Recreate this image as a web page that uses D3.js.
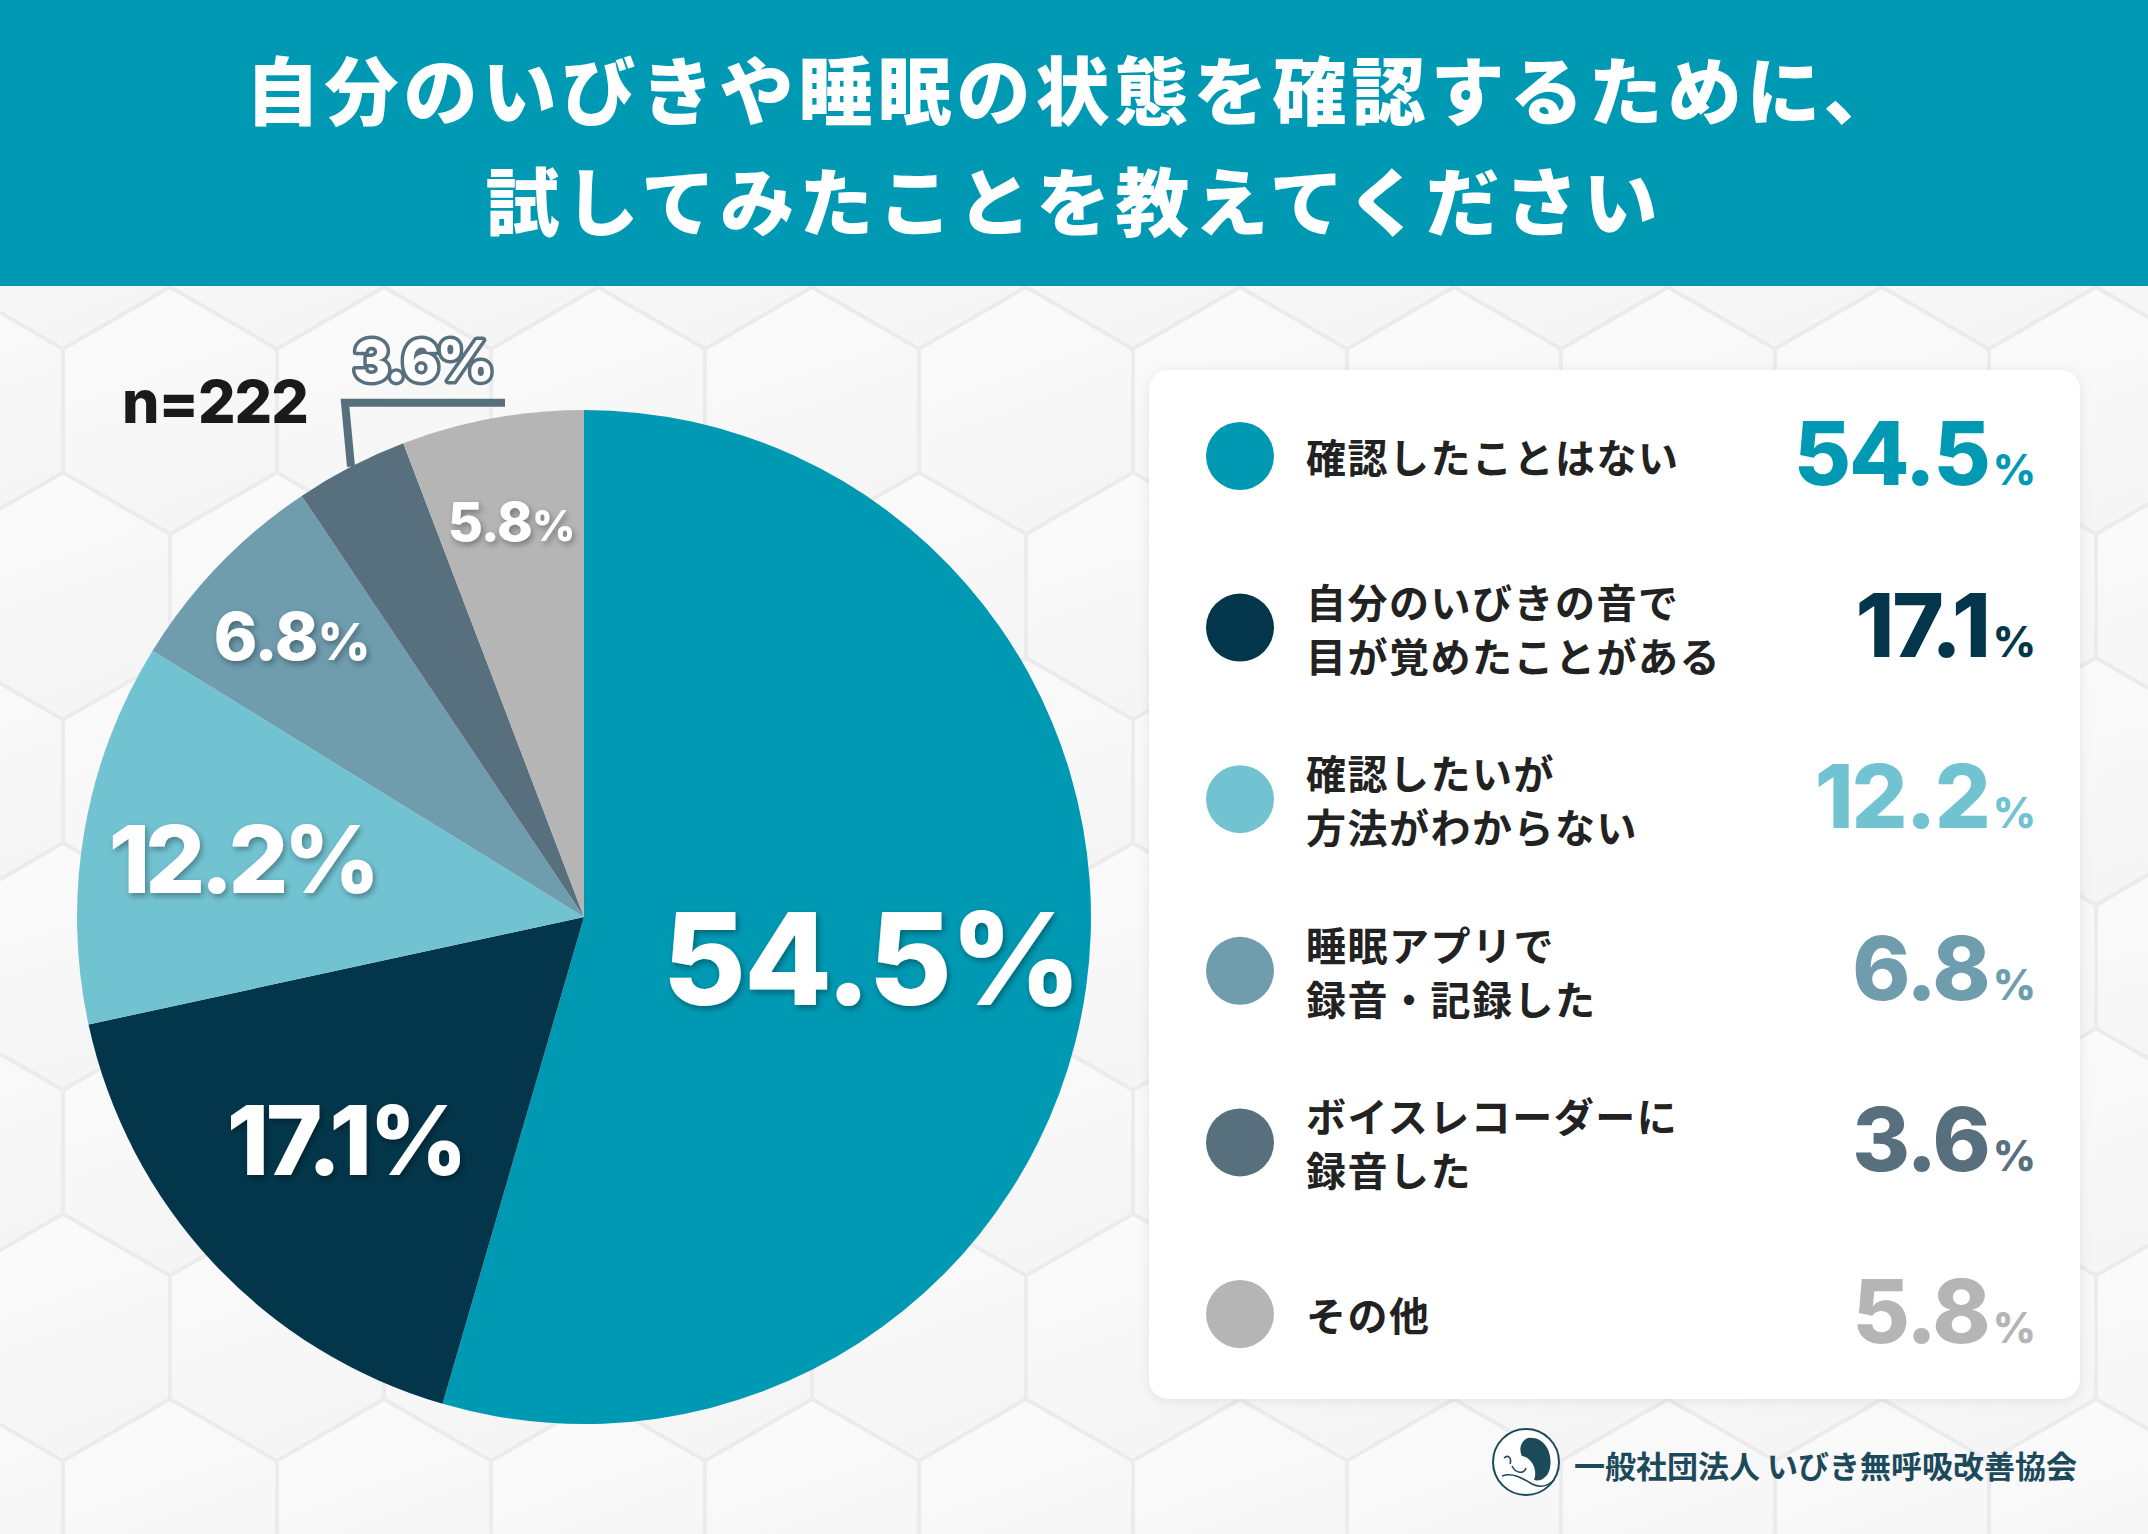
<!DOCTYPE html>
<html lang="ja">
<head>
<meta charset="utf-8">
<script src="https://cdn.jsdelivr.net/npm/d3@7"></script>
<style>
  html, body { margin: 0; padding: 0; background: #f1f1f1; }
  svg { display: block; }
  .jp { font-family: "Noto Sans CJK JP", "Noto Sans", sans-serif; }
  .num { font-family: Inter, "Noto Sans", sans-serif; }
</style>
</head>
<body>
<div id="chart"></div>
<script>
// ---- data ----
const titleLines = ["自分のいびきや睡眠の状態を確認するために、", "試してみたことを教えてください"];
const categories = [
  ["確認したことはない"],
  ["自分のいびきの音で", "目が覚めたことがある"],
  ["確認したいが", "方法がわからない"],
  ["睡眠アプリで", "録音・記録した"],
  ["ボイスレコーダーに", "録音した"],
  ["その他"]
];
const values = [54.5, 17.1, 12.2, 6.8, 3.6, 5.8];
const sampleSize = 222;
const footerText = "一般社団法人 いびき無呼吸改善協会";

// ---- style ----
const colors = ["#0099b3", "#03364a", "#72c3d2", "#6f9dae", "#58707d", "#b5b5b5"];
const labelRadius = [290, 326, 347, 406, null, 403];   // null = callout outside
const labelSize = [128, 96, 94, 66, null, 54];
const labelSpacing = [-2, -3, -5, -1, 0, -1];
const pctScale = [1, 1, 1, 0.78, 1, 0.78];

const W = 2148, H = 1534;
const cx = 584, cy = 917, R = 507;

const svg = d3.select("#chart").append("svg")
  .attr("width", W).attr("height", H);

const defs = svg.append("defs");
defs.append("filter").attr("id", "txtShadow")
  .attr("x", "-20%").attr("y", "-20%").attr("width", "140%").attr("height", "140%")
  .append("feDropShadow")
  .attr("dx", 2).attr("dy", 3).attr("stdDeviation", 3)
  .attr("flood-color", "#000").attr("flood-opacity", 0.35);
defs.append("filter").attr("id", "cardShadow")
  .attr("x", "-5%").attr("y", "-5%").attr("width", "110%").attr("height", "110%")
  .append("feDropShadow")
  .attr("dx", 0).attr("dy", 2).attr("stdDeviation", 6)
  .attr("flood-color", "#000").attr("flood-opacity", 0.08);
const hexGrad = defs.append("linearGradient").attr("id", "hexGrad")
  .attr("x1", 0).attr("y1", 0).attr("x2", 0.3).attr("y2", 1);
hexGrad.append("stop").attr("offset", 0).attr("stop-color", "#fbfbfb");
hexGrad.append("stop").attr("offset", 1).attr("stop-color", "#f5f5f5");

// ---- hexagon background ----
svg.append("rect").attr("width", W).attr("height", H).attr("fill", "#f2f2f2");
const hexW = 214, hexR = hexW / Math.sqrt(3);
const hexPts = d3.range(6).map(k => {
  const a = Math.PI / 180 * (60 * k - 90);
  return [hexR * Math.cos(a), hexR * Math.sin(a)];
});
const hexPath = "M" + hexPts.map(p => p.join(",")).join("L") + "Z";
const hexes = [];
for (let row = -1; row * hexR * 1.5 < H + hexR; row++) {
  for (let col = -1; col * hexW < W + hexW; col++) {
    hexes.push([col * hexW + (row % 2 ? hexW / 2 : 0) - 44, row * hexR * 1.5 + 40]);
  }
}
svg.append("g").selectAll("path").data(hexes).join("path")
  .attr("d", hexPath)
  .attr("transform", d => `translate(${d[0]},${d[1]}) scale(0.99)`)
  .attr("fill", "url(#hexGrad)")
  .attr("stroke", "#e9e9e9")
  .attr("stroke-width", 1.5);

// ---- header ----
svg.append("rect").attr("width", W).attr("height", 286).attr("fill", "#0099b3");
svg.append("g").selectAll("text").data(titleLines).join("text")
  .attr("class", "jp")
  .attr("x", W / 2)
  .attr("y", (d, i) => 86 + i * 111)
  .attr("text-anchor", "middle")
  .attr("dominant-baseline", "central")
  .attr("fill", "#fff")
  .attr("font-size", 74)
  .attr("font-weight", 900)
  .attr("letter-spacing", 5)
  .text(d => d);

// ---- pie ----
const pie = d3.pie().sort(null).value(d => d);
const arcs = pie(values);
const arc = d3.arc().innerRadius(0).outerRadius(R);
const gPie = svg.append("g").attr("transform", `translate(${cx},${cy})`);
gPie.selectAll("path").data(arcs).join("path")
  .attr("d", arc)
  .attr("fill", (d, i) => colors[i]);

const gLab = gPie.append("g").attr("filter", "url(#txtShadow)");
arcs.forEach((d, i) => {
  if (labelRadius[i] == null) return;
  const [x, y] = d3.arc().innerRadius(labelRadius[i]).outerRadius(labelRadius[i]).centroid(d);
  const fs = labelSize[i];
  const t = gLab.append("text")
    .attr("class", "num")
    .attr("x", x).attr("y", y + fs * 0.37)
    .attr("text-anchor", "middle")
    .attr("fill", "#fff")
    .attr("font-size", fs)
    .attr("font-weight", 800)
    .attr("letter-spacing", labelSpacing[i]);
  t.append("tspan").text(values[i].toFixed(1));
  t.append("tspan").attr("font-size", fs * pctScale[i]).text("%");
});

// callout for the small slice
const small = values.findIndex((v, i) => labelRadius[i] == null);
const edge = d3.arc().innerRadius(R).outerRadius(R).centroid(arcs[small]);
const elbow = [edge[0] - 6, edge[1] - 64];
const lineEnd = [elbow[0] + 160, elbow[1]];
gPie.append("path")
  .attr("d", d3.line()([edge, elbow, lineEnd]))
  .attr("fill", "none")
  .attr("stroke", colors[small])
  .attr("stroke-width", 8)
  .attr("stroke-linejoin", "miter");
gPie.append("text")
  .attr("class", "num")
  .attr("x", elbow[0] + 8).attr("y", elbow[1] - 22)
  .attr("fill", "#fff")
  .attr("stroke", colors[small])
  .attr("stroke-width", 7)
  .attr("stroke-linejoin", "round")
  .attr("paint-order", "stroke")
  .attr("font-size", 57)
  .attr("font-weight", 800)
  .attr("letter-spacing", -3)
  .text(values[small].toFixed(1) + "%");

// sample size
svg.append("text")
  .attr("class", "num")
  .attr("x", 122).attr("y", 423)
  .attr("fill", "#1a1a1a")
  .attr("font-size", 59)
  .attr("font-weight", 800)
  .attr("letter-spacing", -1)
  .text("n=" + sampleSize);

// ---- legend card ----
svg.append("rect")
  .attr("x", 1149).attr("y", 370)
  .attr("width", 931).attr("height", 1029)
  .attr("rx", 20)
  .attr("fill", "#fff")
  .attr("filter", "url(#cardShadow)");

const rowY = d3.scalePoint().domain(d3.range(categories.length)).range([456, 1314]);
const rows = svg.append("g").selectAll("g").data(categories).join("g")
  .attr("transform", (d, i) => `translate(0,${rowY(i)})`);
rows.append("circle")
  .attr("cx", 1240).attr("cy", 0).attr("r", 34)
  .attr("fill", (d, i) => colors[i]);
rows.append("text")
  .attr("class", "jp")
  .attr("fill", "#222")
  .attr("font-size", 40)
  .attr("font-weight", 700)
  .attr("letter-spacing", 1.5)
  .attr("dominant-baseline", "central")
  .selectAll("tspan").data(d => d.map((s, k) => ({ s, k, n: d.length }))).join("tspan")
  .attr("x", 1306)
  .attr("y", d => (d.k - (d.n - 1) / 2) * 54)
  .text(d => d.s);
const vals = rows.append("text")
  .attr("class", "num")
  .attr("x", 2034).attr("y", 29)
  .attr("text-anchor", "end")
  .attr("fill", (d, i) => colors[i])
  .attr("font-size", 88)
  .attr("font-weight", 800)
  .attr("letter-spacing", -2);
vals.append("tspan").text((d, i) => values[i].toFixed(1));
vals.append("tspan").attr("font-size", 42).attr("dx", 4).text("%");

// ---- footer ----
const logo = svg.append("g").attr("transform", "translate(1526,1462)");
logo.append("circle").attr("r", 33).attr("fill", "#fff").attr("stroke", "#1d4a5a").attr("stroke-width", 2);
logo.append("path")
  .attr("d", "M2,-24 C18,-26 27,-10 24,6 C22,16 14,20 8,18 C12,8 6,-4 -4,-6 C-8,-14 -4,-22 2,-24 Z")
  .attr("fill", "#1d4a5a");
logo.append("path")
  .attr("d", "M-24,14 C-14,10 -4,16 6,22 C14,26 22,24 28,18 M-22,-4 C-18,-8 -14,-4 -16,2 M-14,4 C-10,12 -2,12 0,6")
  .attr("fill", "none").attr("stroke", "#1d4a5a").attr("stroke-width", 1.6);
svg.append("text")
  .attr("class", "jp")
  .attr("x", 1574).attr("y", 1464)
  .attr("dominant-baseline", "central")
  .attr("fill", "#1d4a5a")
  .attr("font-size", 31)
  .attr("font-weight", 700)
  .text(footerText);
</script>
</body>
</html>
